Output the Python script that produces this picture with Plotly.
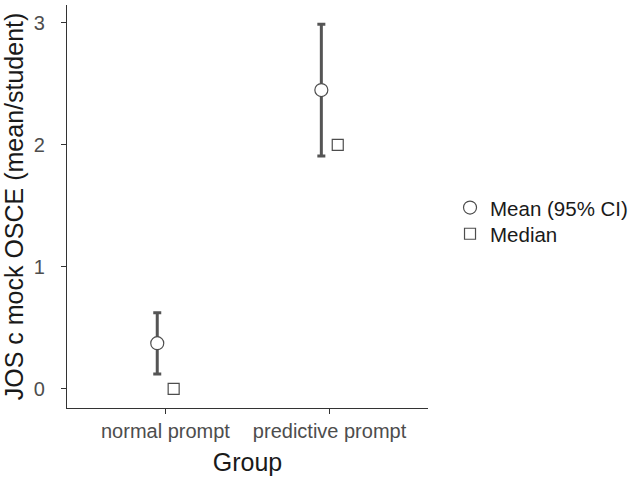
import plotly.graph_objects as go

groups = ["normal prompt", "predictive prompt"]
mean_vals = [0.375, 2.45]
ci_upper = [0.625, 2.99]
ci_lower = [0.123, 1.91]
median_vals = [0.0, 2.0]

dodge = 0.05
xpos = [i + 1 for i in range(len(groups))]
x_mean = [x - dodge for x in xpos]
x_med = [x + dodge for x in xpos]

FONT = "Liberation Sans, Arial, Helvetica, sans-serif"
GRAY = "#4D4D4D"
AX = "#333333"

fig = go.Figure()
fig.add_trace(go.Scatter(
    x=x_mean, y=mean_vals, mode="markers", name="Mean (95% CI)",
    legend="legend",
    marker=dict(symbol="circle", size=13, color="white",
                line=dict(color=GRAY, width=1.2)),
    error_y=dict(type="data", symmetric=False,
                 array=[u - m for u, m in zip(ci_upper, mean_vals)],
                 arrayminus=[m - l for m, l in zip(mean_vals, ci_lower)],
                 color="#555555", thickness=3, width=4),
))
fig.add_trace(go.Scatter(
    x=x_med, y=median_vals, mode="markers", name="Median",
    legend="legend2",
    marker=dict(symbol="square", size=11, color="white",
                line=dict(color=GRAY, width=1.2)),
))

leg_common = dict(x=1.061, xanchor="left", yanchor="middle",
                  font=dict(size=20.5, color="#1a1a1a"),
                  bgcolor="rgba(0,0,0,0)")

fig.update_layout(
    width=630, height=481,
    margin=dict(l=67, r=202, t=5, b=73, autoexpand=False),
    plot_bgcolor="white", paper_bgcolor="white",
    font=dict(family=FONT, size=20, color=GRAY),
    showlegend=True,
    legend=dict(y=0.497, **leg_common),
    legend2=dict(y=0.432, **leg_common),
    xaxis=dict(range=[0.4, 2.6], tickvals=xpos, ticktext=groups,
               showgrid=False, zeroline=False, showline=True,
               linecolor=AX, linewidth=1.3, ticks="outside", ticklen=5,
               tickcolor=AX, tickwidth=1.3, automargin=False,
               tickfont=dict(size=20, color=GRAY),
               title=dict(text="Group", font=dict(size=25, color="#1a1a1a"), standoff=12)),
    yaxis=dict(range=[-0.156, 3.147], tickvals=[0, 1, 2, 3],
               showgrid=False, zeroline=False, showline=True,
               linecolor=AX, linewidth=1.3, ticks="outside", ticklen=5,
               tickcolor=AX, tickwidth=1.3, automargin=False,
               ticklabelstandoff=12,
               tickfont=dict(size=20, color=GRAY),
               title=dict(text="JOS c mock OSCE (mean/student)",
                          font=dict(size=25, color="#1a1a1a"), standoff=2)),
)

fig.write_html("out.html")
